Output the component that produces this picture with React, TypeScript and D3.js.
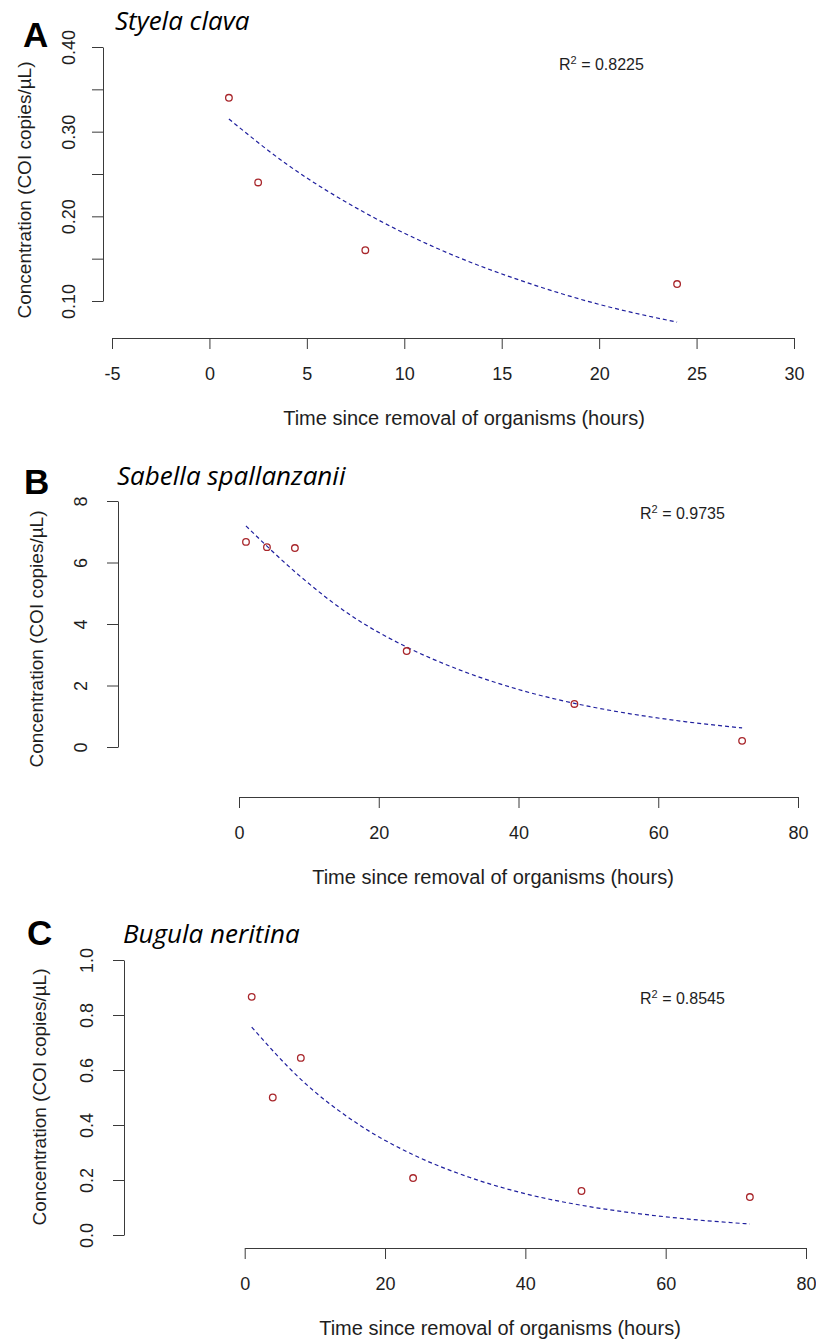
import React, { useEffect, useRef } from 'react';
import * as d3 from 'd3';

// Styela clava
const timesA = [1, 2.5, 8, 24];
const concA = [0.34, 0.24, 0.16, 0.12];
const fitTimesA = [1, 4, 8, 12, 16, 20, 24];
const fitA = [0.315, 0.261, 0.204, 0.159, 0.124, 0.096, 0.075];
const xTicksA = [-5, 0, 5, 10, 15, 20, 25, 30];
const yTicksA = [0.1, 0.15, 0.2, 0.25, 0.3, 0.35, 0.4];

// Sabella spallanzanii
const timesB = [1, 4, 8, 24, 48, 72];
const concB = [6.67, 6.5, 6.47, 3.12, 1.4, 0.2];
const fitTimesB = [1, 8, 16, 24, 32, 40, 48, 56, 64, 72];
const fitB = [7.19, 5.7, 4.28, 3.25, 2.47, 1.87, 1.42, 1.08, 0.82, 0.62];
const yTicksB = [0, 2, 4, 6, 8];

// Bugula neritina
const timesC = [1, 4, 8, 24, 48, 72];
const concC = [0.866, 0.5, 0.644, 0.207, 0.16, 0.138];
const fitTimesC = [1, 8, 16, 24, 32, 40, 48, 56, 64, 72];
const fitC = [0.756, 0.566, 0.406, 0.292, 0.21, 0.15, 0.108, 0.078, 0.056, 0.04];
const yTicksC = [0, 0.2, 0.4, 0.6, 0.8, 1.0];

const xTicksBC = [0, 20, 40, 60, 80];

const xTitle = 'Time since removal of organisms (hours)';
const yTitle = 'Concentration (COI copies/\u00b5L)';

const sans = '"Liberation Sans", Arial, sans-serif';
const axisColor = '#3a3a3a';
const textColor = '#1e1e1e';

// plain hyphen for negatives, like R
const intFmt = (d) => String(d);

const panels = [
  {
    letter: 'A', species: 'Styela clava', r2: '0.8225',
    times: timesA, conc: concA, fitTimes: fitTimesA, fit: fitA,
    xTicks: xTicksA, yTicks: yTicksA,
    yFmt: (d) => (Math.abs(d * 10 - Math.round(d * 10)) < 1e-6 ? d3.format('.2f')(d) : ''),
    xDomain: [-5, 30], xRange: [112, 794], yDomain: [0.1, 0.4], yRange: [301, 47],
    xAxisY: 338, yAxisX: 103, yLabX: 69,
    letterPos: [23, 47], speciesPos: [115, 30], r2Pos: [559, 70],
    xTitlePos: [464, 425], yTitlePos: [25, 190],
  },
  {
    letter: 'B', species: 'Sabella spallanzanii', r2: '0.9735',
    times: timesB, conc: concB, fitTimes: fitTimesB, fit: fitB,
    xTicks: xTicksBC, yTicks: yTicksB,
    yFmt: intFmt,
    xDomain: [0, 80], xRange: [239, 798], yDomain: [0, 8], yRange: [747, 501],
    xAxisY: 797, yAxisX: 118, yLabX: 81,
    letterPos: [24, 494], speciesPos: [117, 485], r2Pos: [640, 519],
    xTitlePos: [493, 884], yTitlePos: [37, 639],
  },
  {
    letter: 'C', species: 'Bugula neritina', r2: '0.8545',
    times: timesC, conc: concC, fitTimes: fitTimesC, fit: fitC,
    xTicks: xTicksBC, yTicks: yTicksC,
    yFmt: d3.format('.1f'),
    xDomain: [0, 80], xRange: [244.7, 806], yDomain: [0, 1], yRange: [1235, 960],
    xAxisY: 1248, yAxisX: 124, yLabX: 87,
    letterPos: [27, 945], speciesPos: [123, 943], r2Pos: [640, 1004],
    xTitlePos: [500, 1335], yTitlePos: [40, 1097],
  },
];

export default function App() {
  const svgRef = useRef<SVGSVGElement>(null);

  useEffect(() => {
    document.body.style.margin = '0';
    const svg = d3.select(svgRef.current);
    svg.selectAll('*').remove();

    panels.forEach((p) => {
      const x = d3.scaleLinear().domain(p.xDomain).range(p.xRange);
      const y = d3.scaleLinear().domain(p.yDomain).range(p.yRange);
      const g = svg.append('g');

      // y axis, labels parallel to the axis
      const ya = g.append('g')
        .attr('transform', `translate(${p.yAxisX},0)`)
        .call(d3.axisLeft(y).tickValues(p.yTicks).tickSize(11).tickSizeOuter(0).tickFormat(p.yFmt));
      ya.attr('color', axisColor).attr('font-size', 18).attr('font-family', sans);
      ya.selectAll('text')
        .attr('transform', 'rotate(-90)')
        .attr('x', 0)
        .attr('y', -(p.yAxisX - p.yLabX) + 6)
        .attr('dy', null)
        .attr('text-anchor', 'middle')
        .attr('fill', textColor);

      // x axis
      const xa = g.append('g')
        .attr('transform', `translate(0,${p.xAxisY})`)
        .call(d3.axisBottom(x).tickValues(p.xTicks).tickSize(11).tickSizeOuter(0).tickFormat(intFmt));
      xa.attr('color', axisColor).attr('font-size', 18).attr('font-family', sans);
      xa.selectAll('text').attr('y', 42).attr('dy', null).attr('fill', textColor);

      // fitted decay curve
      const line = d3.line<number>()
        .x((d, i) => x(p.fitTimes[i]))
        .y((d) => y(d))
        .curve(d3.curveMonotoneX);
      g.append('path')
        .attr('d', line(p.fit))
        .attr('fill', 'none')
        .attr('stroke', '#1f1f9e')
        .attr('stroke-width', 1.2)
        .attr('stroke-dasharray', '4,3');

      // observations
      g.selectAll('circle')
        .data(p.conc)
        .enter().append('circle')
        .attr('cx', (d, i) => x(p.times[i]))
        .attr('cy', (d) => y(d))
        .attr('r', 3.3)
        .attr('fill', 'none')
        .attr('stroke', '#a8262b')
        .attr('stroke-width', 1.3);

      // texts
      g.append('text')
        .attr('x', p.letterPos[0]).attr('y', p.letterPos[1])
        .attr('font-family', sans).attr('font-weight', 'bold').attr('font-size', 35)
        .attr('fill', '#000')
        .text(p.letter);

      g.append('text')
        .attr('x', p.speciesPos[0]).attr('y', p.speciesPos[1])
        .attr('font-family', '"Open Sans", sans-serif').attr('font-style', 'italic').attr('font-size', 26)
        .attr('fill', '#000')
        .text(p.species);

      const r2 = g.append('text')
        .attr('x', p.r2Pos[0]).attr('y', p.r2Pos[1])
        .attr('font-family', sans).attr('font-size', 16)
        .attr('fill', textColor);
      r2.append('tspan').text('R');
      r2.append('tspan').attr('font-size', 11).attr('dy', -6).text('2');
      r2.append('tspan').attr('dy', 6).text(` = ${p.r2}`);

      g.append('text')
        .attr('x', p.xTitlePos[0]).attr('y', p.xTitlePos[1])
        .attr('text-anchor', 'middle')
        .attr('font-family', sans).attr('font-size', 20)
        .attr('fill', textColor)
        .text(xTitle);

      g.append('text')
        .attr('transform', `translate(${p.yTitlePos[0] + 6},${p.yTitlePos[1]}) rotate(-90)`)
        .attr('text-anchor', 'middle')
        .attr('font-family', sans).attr('font-size', 19)
        .attr('fill', textColor)
        .text(yTitle);
    });
  }, []);

  return <svg ref={svgRef} width={816} height={1340} style={{ display: 'block' }} />;
}
